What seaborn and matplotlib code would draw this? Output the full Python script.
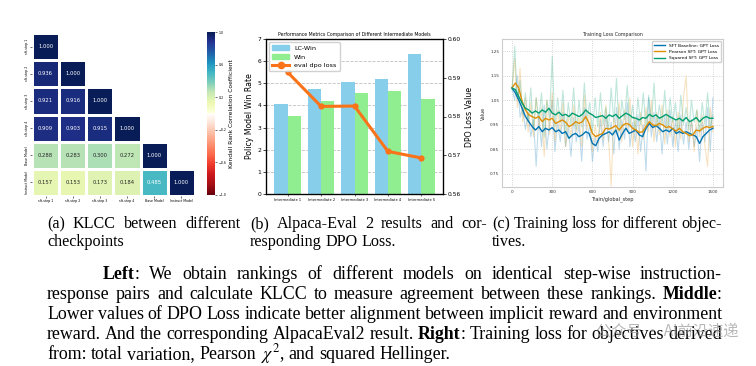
import numpy as np
import pandas as pd
import matplotlib
matplotlib.use("Agg")
import matplotlib.pyplot as plt
import seaborn as sns
from matplotlib.colors import LinearSegmentedColormap
from matplotlib.lines import Line2D
from matplotlib.patches import Patch

# ---------------- data ----------------
# (a) Kendall rank correlation between checkpoints (lower triangle)
ckpt_labels = ["sft-step 1", "sft-step 2", "sft-step 3", "sft-step 4", "Base Model", "Instruct Model"]
klcc_rows = [
    [1.000],
    [0.936, 1.000],
    [0.921, 0.916, 1.000],
    [0.909, 0.903, 0.915, 1.000],
    [0.288, 0.283, 0.300, 0.272, 1.000],
    [0.157, 0.153, 0.173, 0.184, 0.485, 1.000],
]

# (b) AlpacaEval2 + DPO loss
models = ["Intermediate 1", "Intermediate 2", "Intermediate 3", "Intermediate 4", "Intermediate 5"]
lc_win = [4.08, 4.76, 5.05, 5.18, 6.33]
win = [3.54, 4.19, 4.58, 4.64, 4.29]
dpo_loss = [0.5914, 0.5826, 0.5827, 0.5710, 0.5693]

# (c) training loss, raw (every 20 steps) and smoothed (every 25 steps)
raw_steps = list(range(0, 1501, 20))
smooth_steps = list(range(0, 1501, 25))
series_names = ["SFT Baseline: GPT Loss", "Pearson SFT: GPT Loss", "Squared SFT: GPT Loss"]

baseline_raw = [1.10, 1.05, 1.15, 0.98, 1.02, 0.93, 1.00, 0.90, 0.97, 0.78, 0.99, 0.86, 1.03, 0.85, 0.96,
                1.05, 0.84, 0.96, 0.88, 1.00, 0.86, 0.94, 0.82, 0.98, 0.88, 0.95, 0.80, 1.02, 0.89, 0.95,
                0.80, 0.90, 0.84, 0.97, 0.86, 0.99, 0.88, 0.96, 0.83, 1.02, 0.85, 0.97, 0.89, 1.04, 0.86,
                0.96, 0.88, 0.99, 0.84, 0.95, 0.76, 1.06, 0.90, 1.00, 0.88, 0.98, 0.83, 0.99, 0.87, 1.01,
                0.86, 0.97, 0.84, 0.99, 0.87, 0.96, 0.85, 0.97, 0.86, 0.94, 0.80, 0.96, 0.88, 1.02, 0.84, 1.06]
pearson_raw = [1.10, 1.22, 1.02, 1.18, 0.96, 1.06, 0.92, 1.04, 0.90, 1.06, 0.93, 1.02, 0.82, 1.05, 0.91,
               1.08, 0.88, 1.01, 0.92, 1.04, 0.86, 0.99, 0.90, 1.03, 0.92, 0.98, 0.86, 1.07, 0.93, 1.00,
               0.84, 0.95, 0.87, 1.00, 0.89, 1.03, 0.90, 0.70, 0.98, 0.91, 1.04, 0.88, 1.01, 0.92, 1.06,
               0.86, 0.98, 0.83, 1.00, 0.89, 1.02, 0.92, 1.05, 0.88, 1.00, 0.91, 1.03, 0.87, 1.01, 0.90,
               0.98, 0.86, 1.00, 0.89, 1.06, 1.15, 0.88, 0.97, 0.84, 1.01, 0.90, 0.99, 0.86, 0.78, 1.02, 0.92]
squared_raw = [1.09, 1.27, 1.05, 1.13, 0.99, 1.08, 0.96, 1.10, 0.93, 1.06, 0.97, 1.08, 0.90, 1.05, 0.98,
               1.23, 0.94, 1.06, 0.96, 1.09, 0.91, 1.04, 0.95, 1.10, 0.93, 1.05, 0.94, 1.12, 0.97, 1.04,
               0.92, 1.06, 0.94, 1.08, 0.95, 1.02, 0.93, 1.10, 0.96, 1.14, 0.92, 1.05, 0.97, 1.11, 0.94,
               1.03, 0.92, 1.06, 0.95, 1.08, 0.93, 1.07, 0.96, 1.12, 0.94, 1.03, 0.95, 1.09, 0.93, 1.06,
               0.96, 1.04, 0.91, 1.07, 0.95, 1.02, 0.93, 1.05, 0.96, 1.01, 0.92, 1.04, 0.95, 1.08, 0.94, 0.99]

baseline_smooth = [1.100, 1.079, 1.051, 1.017, 0.983, 0.962, 0.942, 0.928, 0.942, 0.921, 0.935, 0.928, 0.938,
                   0.921, 0.928, 0.914, 0.921, 0.894, 0.908, 0.914, 0.901, 0.908, 0.921, 0.914, 0.873, 0.864,
                   0.894, 0.908, 0.914, 0.921, 0.908, 0.928, 0.887, 0.914, 0.935, 0.914, 0.921, 0.928, 0.908,
                   0.901, 0.935, 0.955, 0.938, 0.946, 0.935, 0.921, 0.928, 0.921, 0.935, 0.914, 0.921, 0.914,
                   0.921, 0.914, 0.908, 0.901, 0.873, 0.901, 0.914, 0.928, 0.935]
pearson_smooth = [1.100, 1.120, 1.100, 1.045, 1.010, 0.990, 0.983, 0.976, 0.983, 0.962, 0.976, 0.969, 0.976,
                  0.955, 0.962, 0.969, 0.960, 0.942, 0.949, 0.962, 0.955, 0.962, 0.983, 0.955, 0.914, 0.901,
                  0.908, 0.914, 0.935, 0.932, 0.938, 0.946, 0.928, 0.946, 0.955, 0.951, 0.935, 0.928, 0.918,
                  0.921, 0.942, 0.962, 0.949, 0.946, 0.955, 0.949, 0.938, 0.942, 0.932, 0.924, 0.935, 0.921,
                  0.914, 0.905, 0.908, 0.928, 0.924, 0.935, 0.942, 0.938, 0.942]
squared_smooth = [1.100, 1.093, 1.065, 1.038, 1.017, 1.010, 0.997, 1.006, 0.997, 1.010, 1.001, 1.017, 0.997,
                  0.990, 1.001, 0.987, 0.992, 0.983, 0.997, 0.990, 0.983, 0.992, 1.010, 0.997, 0.990, 0.979,
                  0.983, 0.987, 0.976, 0.990, 0.983, 0.992, 0.976, 0.987, 0.997, 0.990, 0.979, 0.976, 0.969,
                  0.979, 0.976, 0.992, 0.983, 0.990, 0.976, 0.983, 0.992, 0.983, 0.976, 0.969, 0.976, 0.965,
                  0.979, 0.962, 0.969, 0.979, 0.962, 0.976, 0.983, 0.976, 0.976]

# ---------------- layout helpers ----------------
W, H = 756, 366
SERIF = "Liberation Serif"
plt.rcParams["mathtext.fontset"] = "stix"


def box(x0, y0, x1, y1):
    # pixel box (top-left origin) -> figure fraction rect
    return [x0 / W, 1 - y1 / H, (x1 - x0) / W, (y1 - y0) / H]


fig = plt.figure(figsize=(W / 100, H / 100), dpi=100)

# ---------------- (a) heatmap ----------------
n = len(klcc_rows)
mat = np.zeros((n, n))
for i, row in enumerate(klcc_rows):
    for j, v in enumerate(row):
        mat[i, j] = v
        mat[j, i] = v
df_a = pd.DataFrame(mat, index=ckpt_labels, columns=ckpt_labels)
mask = np.triu(np.ones_like(mat, dtype=bool), k=1)

reds = ["#67000d", "#a50f15", "#cb181d", "#ef3b2c", "#fb6a4a", "#fc9272", "#fcbba1", "#fee0d2", "#ffffff"]
ylgnbu = ["#ffffd9", "#edf8b1", "#c7e9b4", "#7fcdbb", "#41b6c4", "#1d91c0", "#225ea8", "#253494", "#081d58"]
stops = [(0.5 * k / 8, c) for k, c in enumerate(reds[:-1])] + [(0.5, "#ffffff")] + \
        [(0.505 + 0.495 * k / 8, c) for k, c in enumerate(ylgnbu)]
klcc_cmap = LinearSegmentedColormap.from_list("klcc", stops)

ax_a = fig.add_axes(box(32, 33, 195, 196))
cax = fig.add_axes(box(207, 32, 215, 195))
sns.heatmap(df_a, mask=mask, cmap=klcc_cmap, vmin=-1, vmax=1, annot=True, fmt=".3f",
            annot_kws={"size": 3.8}, linewidths=1, linecolor="white", ax=ax_a, cbar_ax=cax)
ax_a.tick_params(labelsize=2.3, length=1.5, width=0.4, pad=1)
ax_a.set_yticklabels(ckpt_labels, rotation=90, va="center")
ax_a.set_xticklabels(ckpt_labels, rotation=0)
cbar = ax_a.collections[0].colorbar
cbar.set_ticks([-1.0, -0.6, -0.2, 0.2, 0.6, 1.0])
cbar.ax.tick_params(labelsize=2.3, length=1.5, width=0.4, pad=1)
cbar.outline.set_visible(False)
cbar.set_label("Kendall Rank Correlation Coefficient", size=4.3, labelpad=2)

# ---------------- (b) bars + dpo loss ----------------
df_b = pd.DataFrame({
    "model": models * 2,
    "metric": ["LC-Win"] * len(models) + ["Win"] * len(models),
    "value": lc_win + win,
})
bar_colors = {"LC-Win": "#87ceeb", "Win": "#90ee90"}
orange = "#fa7319"

ax_b = fig.add_axes(box(266, 39, 443, 194))
sns.barplot(data=df_b, x="model", y="value", hue="metric", palette=bar_colors, saturation=1,
            linewidth=0, legend=False, ax=ax_b)
ax_b.set_ylim(0, 7)
ax_b.set_xlabel("")
ax_b.set_ylabel("Policy Model Win Rate", fontsize=5.6, labelpad=2)
ax_b.yaxis.grid(True, ls="--", color="#c0c0c0", lw=0.6)
ax_b.set_axisbelow(True)
ax_b.tick_params(axis="y", labelsize=4.3, length=2, width=0.5, pad=1.5)
ax_b.tick_params(axis="x", labelsize=2.6, length=1.5, width=0.4, pad=1.5)
for s in ax_b.spines.values():
    s.set_linewidth(0.9)
ax_b.set_title("Performance Metrics Comparison of Different Intermediate Models", fontsize=3.3, pad=2)

ax2 = ax_b.twinx()
sns.lineplot(x=np.arange(len(models)), y=dpo_loss, ax=ax2, color=orange, lw=2.2,
             marker="o", markersize=4.5, markeredgewidth=0)
ax2.set_ylim(0.56, 0.60)
ax2.set_yticks([0.56, 0.57, 0.58, 0.59, 0.60])
ax2.set_yticklabels(["0.56", "0.57", "0.58", "0.59", "0.60"])
ax2.tick_params(axis="y", labelsize=4.3, length=2, width=0.5, pad=1.5)
ax2.set_ylabel("DPO Loss Value", fontsize=5.6, labelpad=3)
ax_b.set_xlim(-0.65, 4.65)
handles = [Patch(color=bar_colors["LC-Win"], label="LC-Win"),
           Patch(color=bar_colors["Win"], label="Win"),
           Line2D([], [], color=orange, lw=2.2, marker="o", markersize=4.5, label="eval dpo loss")]
ax2.legend(handles=handles, loc="upper left", fontsize=4.6, handlelength=2.6, borderpad=0.5,
           labelspacing=0.5, framealpha=0.9, edgecolor="#cccccc")

# ---------------- (c) training loss ----------------
palette = sns.color_palette("colorblind")
raw_series = [baseline_raw, pearson_raw, squared_raw]
smooth_series = [baseline_smooth, pearson_smooth, squared_smooth]
with sns.axes_style("whitegrid", {"grid.linestyle": ":", "axes.edgecolor": ".8"}):
    ax_c = fig.add_axes(box(502, 39, 723, 187))
for k in range(3):
    sns.lineplot(x=raw_steps, y=raw_series[k], ax=ax_c, color=palette[k], alpha=0.25, lw=0.8)
for k in range(3):
    sns.lineplot(x=smooth_steps, y=smooth_series[k], ax=ax_c, color=palette[k], lw=1.0)
ax_c.set_xlim(-75, 1575)
ax_c.set_ylim(0.695, 1.30)
ax_c.set_xticks([0, 300, 600, 900, 1200, 1500])
ax_c.set_yticks([0.75, 0.85, 0.95, 1.05, 1.15, 1.25])
ax_c.grid(True, ls=":", color="#cccccc", lw=0.6)
ax_c.tick_params(labelsize=3.0, length=0, pad=2, colors="#333333")
ax_c.set_xlabel("Train/global_step", fontsize=3.6, labelpad=2)
ax_c.set_ylabel("Value", fontsize=3.4, labelpad=3)
ax_c.set_title("Training Loss Comparison", fontsize=3.4, pad=2)
leg_handles = [Line2D([], [], color=palette[k], lw=1.0, label=series_names[k]) for k in range(3)]
ax_c.legend(handles=leg_handles, loc="upper right", fontsize=3.2, handlelength=2.5, framealpha=0.9,
            edgecolor="#cccccc", borderpad=0.5)

# ---------------- captions & paragraph ----------------
renderer = fig.canvas.get_renderer()


def parse_words(line):
    words = []
    for raw in line.split(" "):
        segs = []
        bold = False
        for k, piece in enumerate(raw.split("**")):
            if k > 0:
                bold = not bold
            if piece:
                segs.append((piece, "bold" if bold else "normal"))
        words.append(segs)
    return words


def put_line(line, x0, x1, ybase, size, justify=True):
    items = []
    for segs in parse_words(line):
        texts = []
        width = 0.0
        for s, weight in segs:
            t = fig.text(0, 0, s, fontsize=size, fontweight=weight, family=SERIF,
                         va="baseline", ha="left")
            w = t.get_window_extent(renderer).width
            texts.append((t, w))
            width += w
        items.append((texts, width))
    total = sum(w for _, w in items)
    if justify and len(items) > 1:
        gap = (x1 - x0 - total) / (len(items) - 1)
    else:
        gap = size * 1.389 * 0.25
    x = x0
    for texts, width in items:
        xx = x
        for t, w in texts:
            t.set_position((xx / W, 1 - ybase / H))
            xx += w
        x += width + gap


cap_size = 11.6
put_line("(a) KLCC between different", 47, 240, 228, cap_size)
put_line("checkpoints", 47, 240, 246, cap_size, justify=False)
put_line("(b) Alpaca-Eval 2 results and cor-", 250, 487, 228, cap_size)
put_line("responding DPO Loss.", 250, 487, 246, cap_size, justify=False)
put_line("(c) Training loss for different objec-", 492, 722, 228, cap_size)
put_line("tives.", 492, 722, 246, cap_size, justify=False)

par_size = 12.9
par_lines = [
    "**Left**: We obtain rankings of different models on identical step-wise instruction-",
    "response pairs and calculate KLCC to measure agreement between these rankings. **Middle**:",
    "Lower values of DPO Loss indicate better alignment between implicit reward and environment",
    "reward. And the corresponding AlpacaEval2 result. **Right**: Training loss for objectives derived",
    "from: total variation, Pearson $\\chi^2$, and squared Hellinger.",
]
par_base = [279, 299, 319, 339, 359]
for k, line in enumerate(par_lines):
    x0 = 103 if k == 0 else 47
    put_line(line, x0, 722, par_base[k], par_size, justify=(k < len(par_lines) - 1))

# watermark
fig.text(596 / W, 1 - 336 / H, "公众号 · AI前沿速递", fontsize=11,
         family=["Noto Sans CJK SC", "DejaVu Sans"], color="#9a9a9a", alpha=0.7, va="baseline")

fig.savefig("out.png", dpi=100)
